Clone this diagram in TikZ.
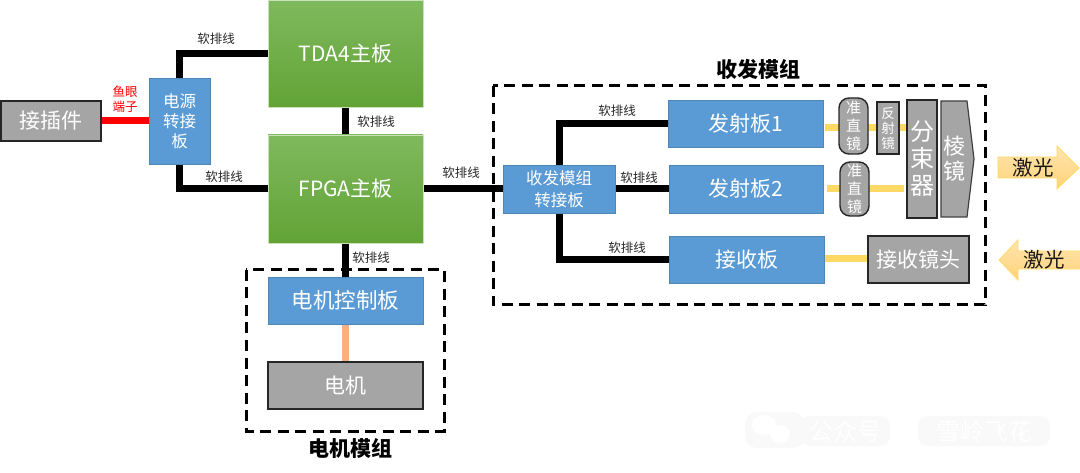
\documentclass[tikz,border=0pt]{standalone}
\usepackage{fontspec}
\setmainfont{Noto Sans CJK SC}
\usetikzlibrary{backgrounds}
\newcommand{\fsz}[1]{\fontsize{#1}{#1}\selectfont}
\newcommand{\fsl}[2]{\fontsize{#1}{#2}\selectfont}
\definecolor{bluebox}{HTML}{5B9BD5}
\definecolor{blueedge}{HTML}{4F86B8}
\definecolor{graybox}{HTML}{A5A5A5}
\definecolor{yellowbeam}{HTML}{FFD966}
\definecolor{arrowtop}{HTML}{FFE5AE}
\definecolor{arrowbot}{HTML}{FFD27A}
\definecolor{greentop}{HTML}{7FB95D}
\definecolor{greenbot}{HTML}{62A336}
\definecolor{greenedge}{HTML}{C9E2B8}
\definecolor{motorline}{HTML}{F4B183}
\tikzset{
  x=1pt,y=-1pt,
  basebox/.style={anchor=north west,inner sep=0pt,outer sep=0pt,align=center,text=white},
  bluenode/.style={basebox,fill=bluebox,draw=blueedge,line width=0.8pt},
  graynode/.style={basebox,fill=graybox,draw=black!85,line width=1.4pt},
  greennode/.style={basebox,top color=greentop,bottom color=greenbot,draw=greenedge,line width=0.8pt,font=\fsz{21}},
  flex/.style={line width=7pt,black},
  beam/.style={line width=7pt,yellowbeam},
  flexlabel/.style={inner sep=0pt,font=\fsz{12.5},text=black!85},
  dashbox/.style={draw=black,line width=3pt,dash pattern=on 11pt off 6.5pt},
  title/.style={inner sep=0pt,font=\fsz{21}\bfseries,text=black},
  laser/.style={top color=arrowtop,bottom color=arrowbot,draw=yellowbeam,line width=0.8pt},
  lasertext/.style={inner sep=0pt,font=\fsz{20.5},text=black!90},
}
\begin{document}
\begin{tikzpicture}
\useasboundingbox (0,0) rectangle (1080,473);
% watermark
\fill[black!2.5,rounded corners=12pt] (745,412) rectangle (805,448);
\fill[black!2.5,rounded corners=10pt] (800,416) rectangle (890,446);
\fill[black!2.5,rounded corners=10pt] (918,416) rectangle (1050,446);
\fill[white] (764,425) ellipse (12 and 10);
\fill[white] (780,434) ellipse (10 and 9);
\node[inner sep=0pt,font=\fsz{24},text=white] (wm1) at (845,431) {公众号};
\node[inner sep=0pt,font=\fsz{24},text=white] (wm2) at (984,431) {雪岭飞花};
% dashed module frames
\draw[dashbox] (493,86) rectangle (985,305);
\draw[dashbox] (246,270) rectangle (444,431);
% nodes
\node[graynode,minimum width=100pt,minimum height=40pt,font=\fsz{21}] (plug) at (1,101) {接插件};
\node[bluenode,minimum width=61pt,minimum height=86pt,font=\fsl{16.5}{20}] (power) at (149,78) {电源\\转接\\板};
\node[greennode,minimum width=155pt,minimum height=107pt] (tda) at (268,0) {TDA4主板};
\node[greennode,minimum width=155pt,minimum height=108pt] (fpga) at (268,135) {FPGA主板};
\node[bluenode,minimum width=155pt,minimum height=47pt,font=\fsz{21.5}] (motorctl) at (268,277) {电机控制板};
\node[graynode,minimum width=155pt,minimum height=47pt,font=\fsz{21}] (motor) at (268,362) {电机};
\node[bluenode,minimum width=112pt,minimum height=48pt,font=\fsl{16.5}{22}] (xcvr) at (503,165) {收发模组\\转接板};
\node[bluenode,minimum width=155pt,minimum height=47pt,font=\fsz{21}] (tx1) at (668,100) {发射板1};
\node[bluenode,minimum width=154pt,minimum height=48pt,font=\fsz{21}] (tx2) at (669,165) {发射板2};
\node[bluenode,minimum width=155pt,minimum height=47pt,font=\fsz{21}] (rx) at (669,236) {接收板};
\node[graynode,rounded corners=10pt,minimum width=29pt,minimum height=56pt,font=\fsl{15}{18}] (col1) at (839,98) {准\\直\\镜};
\node[graynode,minimum width=22pt,minimum height=52pt,font=\fsl{13.5}{15}] (refl) at (877,102) {反\\射\\镜};
\node[graynode,rounded corners=10pt,minimum width=29pt,minimum height=54pt,font=\fsl{15}{18}] (col2) at (840,162) {准\\直\\镜};
\node[graynode,minimum width=30pt,minimum height=118pt,font=\fsl{24}{27}] (split) at (907,100) {分\\束\\器};
\node[graynode,minimum width=101pt,minimum height=47pt,font=\fsz{21}] (rxlens) at (868,236) {接收镜头};
% prism
\fill[graybox,draw=black!75,line width=1.2pt] (941,101) -- (967,101) -- (974,159) -- (967,217) -- (941,217) -- cycle;
\node[inner sep=0pt,align=center,text=white,font=\fsl{22}{25}] (prism) at (954,159) {棱\\镜};
% laser arrows
\path[laser] (998,157) -- (1057,157) -- (1057,146) -- (1079,168) -- (1057,189) -- (1057,178) -- (998,178) -- cycle;
\node[lasertext] (lasera) at (1033,168) {激光};
\path[laser] (1080,251) -- (1018,251) -- (1018,240) -- (999,260) -- (1018,280) -- (1018,269) -- (1080,269);
\node[lasertext] (laserb) at (1044,260) {激光};
% connectors
\begin{scope}[on background layer]
  \coordinate (ya) at (0,128);
  \coordinate (yb) at (0,188.5);
  \coordinate (yc) at (0,259);
  \draw[beam] ([xshift=2pt]tx1.east |- ya) -- (split.west |- ya);
  \draw[beam] ([xshift=4pt]tx2.east |- yb) -- ([xshift=-3pt]split.west |- yb);
  \draw[beam] (rx.east |- yc) -- (rxlens.west |- yc);
  \draw[line width=7pt,red] (plug.east) -- (plug.east -| power.west);
  \draw[flex] (power.north) |- (tda.west);
  \draw[flex] (power.south) |- (fpga.west);
  \draw[flex] (tda.south) -- (fpga.north);
  \draw[flex] (fpga.south) -- (motorctl.north);
  \draw[line width=7pt,motorline] (motorctl.south) -- (motor.north);
  \draw[flex] (fpga.east) -- (xcvr.west);
  \draw[flex] (xcvr.north) |- (tx1.west);
  \draw[flex] (xcvr.east) -- (tx2.west);
  \draw[flex] (xcvr.south) |- (rx.west);
\end{scope}
% labels
\node[flexlabel] (l1) at (216,39) {软排线};
\node[flexlabel] (l2) at (224,177) {软排线};
\node[flexlabel] (l3) at (376,122) {软排线};
\node[flexlabel] (l4) at (461,173) {软排线};
\node[flexlabel] (l5) at (371,258) {软排线};
\node[flexlabel] (l6) at (617,111) {软排线};
\node[flexlabel] (l7) at (639,178) {软排线};
\node[flexlabel] (l8) at (627,248) {软排线};
\node[inner sep=0pt,align=center,text=red,font=\fsl{12.5}{15}] (fish) at (125,99) {鱼眼\\端子};
\node[title] (t1) at (758,69) {收发模组};
\node[title] (t2) at (350,448) {电机模组};
\end{tikzpicture}
\end{document}
